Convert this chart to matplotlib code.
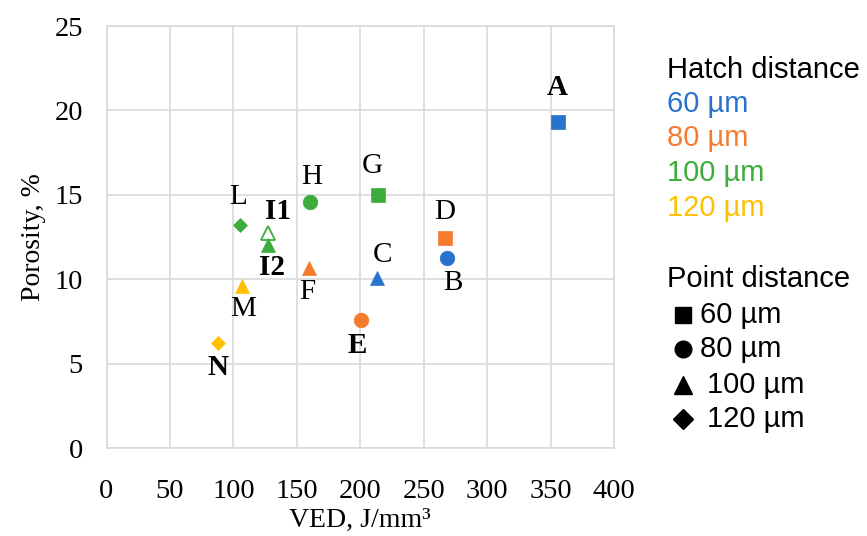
import matplotlib
matplotlib.use("Agg")
import matplotlib.pyplot as plt
from matplotlib.lines import Line2D

# Samples: label, VED (J/mm^3), porosity (%), hatch distance (um), point distance (um)
labels = ["A", "B", "C", "D", "E", "F", "G", "H", "I1", "I2", "L", "M", "N"]
ved = [355.5, 268, 213, 266.5, 200.4, 159.4, 213.8, 160.2, 127, 127, 105, 106.7, 87.8]
porosity = [19.3, 11.25, 10.07, 12.44, 7.58, 10.66, 14.99, 14.57, 12.74, 12.03, 13.2, 9.6, 6.22]
hatch = [60, 60, 60, 80, 80, 80, 100, 100, 100, 100, 100, 120, 120]
point = [60, 80, 100, 60, 80, 100, 60, 80, 100, 100, 120, 100, 120]
hollow = ["I1"]
bold_labels = ["A", "E", "N", "I1", "I2"]

hatch_levels = [60, 80, 100, 120]
point_levels = [60, 80, 100, 120]

x_ticks = [0, 50, 100, 150, 200, 250, 300, 350, 400]
y_ticks = [0, 5, 10, 15, 20, 25]

hatch_colors = {60: "#2a73cc", 80: "#f57c2e", 100: "#3cac3a", 120: "#ffc000"}
point_markers = {60: ("s", 10), 80: ("o", 10.5), 100: ("^", 10.5), 120: ("D", 7.5)}
legend_markers = {60: ("s", 11.5), 80: ("o", 12), 100: ("^", 13.5), 120: ("D", 10)}

# label offsets in pixels (dx, dy up)
label_offsets = {
    "A": (0, 35), "B": (6, -25), "C": (6, 23), "D": (0, 26), "E": (-4, -25),
    "F": (-1, -24), "G": (-5, 29), "H": (2, 25), "I1": (10, 21), "I2": (4, -23),
    "L": (-2, 28), "M": (1, -23), "N": (0, -24),
}

DPI = 100
fig = plt.figure(figsize=(8.67, 5.36), dpi=DPI)
ax = fig.add_axes([106.5 / 867, (536 - 448) / 536, (614 - 106.5) / 867, (448 - 26) / 536])

serif = "Liberation Serif"
sans = "Liberation Sans"
grid_c = "#d9d9d9"

for lab, x, y, h, p in zip(labels, ved, porosity, hatch, point):
    col = hatch_colors[h]
    mk, ms = point_markers[p]
    face = "white" if lab in hollow else col
    ax.plot([x], [y], linestyle="none", marker=mk, markersize=ms,
            markerfacecolor=face, markeredgecolor=col,
            markeredgewidth=1.3 if lab in hollow else 0.5, zorder=3)
    dx, dy = label_offsets[lab]
    ax.annotate(lab, (x, y), xytext=(dx * 72 / DPI, dy * 72 / DPI),
                textcoords="offset points", ha="center", va="center",
                fontfamily=serif, fontsize=21,
                fontweight="bold" if lab in bold_labels else "normal",
                color="black", zorder=4)

ax.set_xlim(0, 400)
ax.set_ylim(0, 25)
ax.set_xticks(x_ticks)
ax.set_yticks(y_ticks)
ax.grid(True, color=grid_c, linewidth=1.2)
ax.set_axisbelow(True)
for s in ax.spines.values():
    s.set_color(grid_c)
    s.set_linewidth(1.2)
ax.tick_params(axis="x", length=0, pad=22, labelsize=20.5)
ax.tick_params(axis="y", length=0, pad=17, labelsize=20.5)
for t in ax.get_xticklabels() + ax.get_yticklabels():
    t.set_fontfamily(serif)
ax.set_xlabel("VED, J/mm³", fontfamily=serif, fontsize=20, labelpad=3)
ax.set_ylabel("Porosity, %", fontfamily=serif, fontsize=20, labelpad=6)


def fx(px):
    return px / 867


def fy(py):
    return 1 - py / 536


# hatch distance legend (coloured text)
fig.text(fx(667), fy(70), "Hatch distance", fontfamily=sans, fontsize=21,
         ha="left", va="center", color="black")
for lvl, py in zip(hatch_levels, [104, 138, 173, 208]):
    fig.text(fx(667), fy(py), f"{lvl} µm", fontfamily=sans, fontsize=21,
             ha="left", va="center", color=hatch_colors[lvl])

# point distance legend (black markers)
fig.text(fx(667), fy(279), "Point distance", fontfamily=sans, fontsize=21,
         ha="left", va="center", color="black")
for lvl, py in zip(point_levels, [315, 349, 385, 419]):
    mk, ms = legend_markers[lvl]
    fig.add_artist(Line2D([fx(683)], [fy(py)], transform=fig.transFigure,
                          linestyle="none", marker=mk, markersize=ms,
                          color="black"))
    tx = 700 if lvl < 100 else 707
    fig.text(fx(tx), fy(py), f"{lvl} µm", fontfamily=sans, fontsize=21,
             ha="left", va="center", color="black")

fig.savefig("out.png", dpi=DPI)
